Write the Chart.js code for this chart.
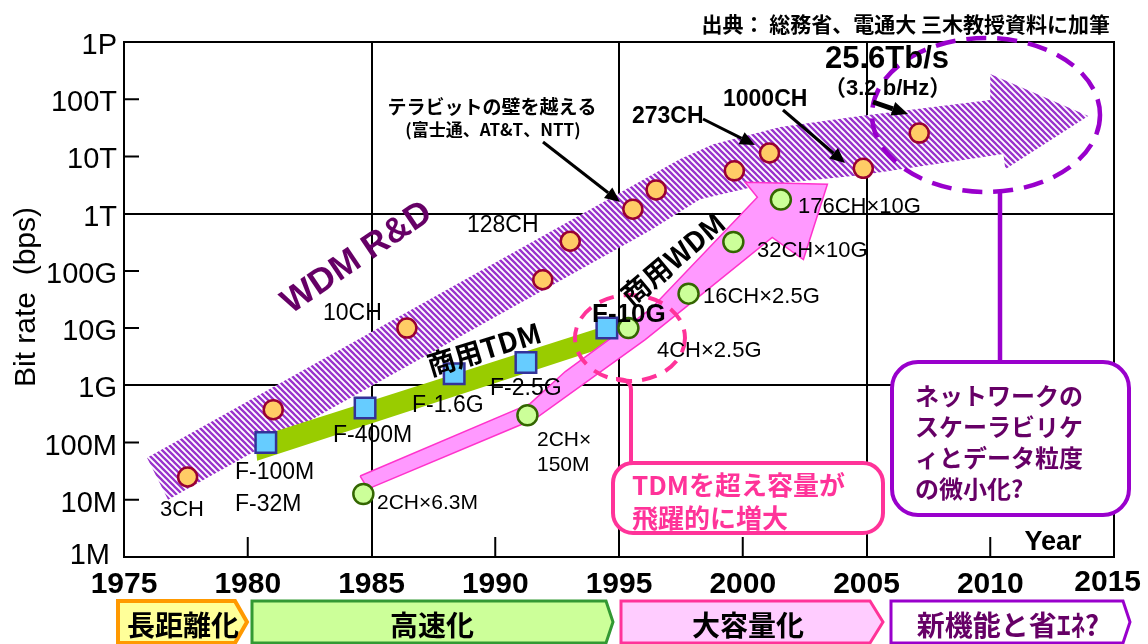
<!DOCTYPE html>
<html lang="ja">
<head>
<meta charset="UTF-8">
<title>光伝送容量の推移</title>
<script src="https://cdn.jsdelivr.net/npm/chart.js"></script>
<style>
  html, body { margin: 0; padding: 0; background: #fff; }
  canvas { display: block; }
</style>
</head>
<body>
<canvas id="myChart" width="1148" height="644"></canvas>
<script>
// 研究開発 (WDM R&D) の伝送容量
const rdYears = [1977.57, 1981.03, 1986.43, 1991.92, 1993.03, 1995.56, 1996.5, 1999.66, 2001.08, 2004.87, 2007.13];
const rdRates = [2.5e7, 3.75e8, 1.0e10, 7.0e10, 3.3e11, 1.2e12, 2.6e12, 5.6e12, 1.15e13, 6.2e12, 2.56e13];

// 商用TDM (F-100M, F-400M, F-1.6G, F-2.5G, F-10G)
const tdmYears = [1980.73, 1984.74, 1988.34, 1991.24, 1994.51];
const tdmRates = [1e8, 4e8, 1.6e9, 2.5e9, 1e10];

// 商用WDM (波長数 × チャネル速度)
const wdmYears = [1984.67, 1991.30, 1995.38, 1997.81, 1999.62, 2001.54];
const wdmRates = [2 * 6.3e6, 2 * 150e6, 4 * 2.5e9, 16 * 2.5e9, 32 * 10e9, 176 * 10e9];

// トレンドの帯 (輪郭)
const rdBandYears = [1975.93, 1997.47, 1998.81, 2001.52, 2004.75, 2010.0, 2010.0, 2013.96, 2010.61, 2010.53, 2004.75, 2000.71, 1998.28, 1996.26, 1976.78];
const rdBandRates = [5.4e7, 9.0e12, 1.64e13, 3.26e13, 5.08e13, 9.7e13, 2.76e14, 5.08e13, 6.0e12, 1.1e13, 4.7e12, 3.14e12, 1.79e12, 5.1e11, 1.0e7];

const tdmBandYears = [1980.30, 1994.64, 1994.81, 1980.38];
const tdmBandRates = [1.21e8, 1.16e10, 5.2e9, 4.8e7];

const wdmBandYears = [1984.54, 1991.41, 1992.83, 1996.26, 2000.59, 2000.10, 2003.42, 2002.45, 2001.19, 1998.28, 1996.06, 1995.05, 1991.61, 1984.86];
const wdmBandRates = [2.6e7, 4.8e8, 1.74e9, 2.12e10, 1.94e12, 3.55e12, 3.27e12, 1.58e11, 3.86e11, 3.7e10, 6.3e9, 3.06e9, 2.6e8, 1.55e7];

// 軸
const xTickValues = [1975, 1980, 1985, 1990, 1995, 2000, 2005, 2010, 2015];
const yTickValues = [1e6, 1e7, 1e8, 1e9, 1e10, 1e11, 1e12, 1e13, 1e14, 1e15];
const yTickLabels = ['1M', '10M', '100M', '1G', '10G', '100G', '1T', '10T', '100T', '1P'];

const JP = '"Noto Sans CJK JP", sans-serif';
const EN = '"Liberation Sans", Arial, sans-serif';
const ENJP = '"Liberation Sans", "Noto Sans CJK JP", sans-serif';

const toXY = (xs, ys) => xs.map((x, i) => ({ x: x, y: ys[i] }));
const closed = (xs, ys) => { const p = toXY(xs, ys); p.push(p[0]); return p; };

const canvas = document.getElementById('myChart');
const mainCtx = canvas.getContext('2d');

// 斜線ハッチ
const stripe = (() => {
  const c = document.createElement('canvas');
  c.width = c.height = 6;
  const g = c.getContext('2d');
  g.fillStyle = '#fff';
  g.fillRect(0, 0, 6, 6);
  g.strokeStyle = '#9933cc';
  g.lineWidth = 2.3;
  g.beginPath();
  for (let k = -1; k <= 1; k++) {
    g.moveTo(k * 6 - 1, -1);
    g.lineTo(k * 6 + 7, 7);
  }
  g.stroke();
  return mainCtx.createPattern(c, 'repeat');
})();

function text(ctx, str, x, y, font, color, align, angle) {
  ctx.save();
  ctx.translate(x, y);
  if (angle) ctx.rotate(angle * Math.PI / 180);
  ctx.font = font;
  ctx.fillStyle = color;
  ctx.textAlign = align || 'left';
  ctx.textBaseline = 'middle';
  ctx.fillText(str, 0, 0);
  ctx.restore();
}

function arrow(ctx, x1, y1, x2, y2, w, head) {
  const a = Math.atan2(y2 - y1, x2 - x1);
  const bx = x2 - head * Math.cos(a), by = y2 - head * Math.sin(a);
  ctx.save();
  ctx.strokeStyle = '#000';
  ctx.fillStyle = '#000';
  ctx.lineWidth = w;
  ctx.beginPath();
  ctx.moveTo(x1, y1);
  ctx.lineTo(bx, by);
  ctx.stroke();
  ctx.beginPath();
  ctx.moveTo(x2, y2);
  ctx.lineTo(bx + head * 0.45 * Math.sin(a), by - head * 0.45 * Math.cos(a));
  ctx.lineTo(bx - head * 0.45 * Math.sin(a), by + head * 0.45 * Math.cos(a));
  ctx.closePath();
  ctx.fill();
  ctx.restore();
}

function roundBox(ctx, x, y, w, h, r, stroke, lw) {
  ctx.save();
  ctx.beginPath();
  ctx.roundRect(x, y, w, h, r);
  ctx.fillStyle = '#fff';
  ctx.fill();
  ctx.strokeStyle = stroke;
  ctx.lineWidth = lw;
  ctx.stroke();
  ctx.restore();
}

function dashedEllipse(ctx, cx, cy, rx, ry, color, lw, dash) {
  ctx.save();
  ctx.beginPath();
  ctx.ellipse(cx, cy, rx, ry, 0, 0, Math.PI * 2);
  ctx.setLineDash(dash);
  ctx.strokeStyle = color;
  ctx.lineWidth = lw;
  ctx.stroke();
  ctx.restore();
}

function banner(ctx, x1, x2, tip, fill, stroke, lw, label, color, tx) {
  const top = 601, mid = 622, bottom = 643;
  ctx.save();
  ctx.beginPath();
  ctx.moveTo(x1, top);
  ctx.lineTo(x2, top);
  ctx.lineTo(tip, mid);
  ctx.lineTo(x2, bottom);
  ctx.lineTo(x1, bottom);
  ctx.closePath();
  ctx.fillStyle = fill;
  ctx.fill();
  ctx.strokeStyle = stroke;
  ctx.lineWidth = lw;
  ctx.lineJoin = 'miter';
  ctx.stroke();
  ctx.restore();
  text(ctx, label, tx, 625, 'bold 28px ' + JP, color, 'center');
}

const decor = {
  id: 'decor',
  beforeDatasetsDraw(chart) {
    const ctx = chart.ctx, a = chart.chartArea;
    const xs = chart.scales.x, ys = chart.scales.y;
    ctx.save();
    ctx.strokeStyle = '#000';
    ctx.lineWidth = 2;
    ctx.strokeRect(a.left, a.top, a.right - a.left, a.bottom - a.top);
    ctx.beginPath();
    [1980, 1990, 2000, 2010].forEach(v => {
      const px = xs.getPixelForValue(v);
      ctx.moveTo(px, a.bottom);
      ctx.lineTo(px, a.bottom - 20);
    });
    [1e7, 1e8, 1e10, 1e11, 1e13, 1e14].forEach(v => {
      const py = ys.getPixelForValue(v);
      ctx.moveTo(a.left, py);
      ctx.lineTo(a.left + 15, py);
    });
    ctx.stroke();
    ctx.restore();
  },
  afterDatasetsDraw(chart) {
    const ctx = chart.ctx;

    // 将来の方向 (点線の楕円と吹き出し)
    dashedEllipse(ctx, 986, 115, 114, 77, '#9900cc', 4.5, [20, 11]);
    ctx.save();
    ctx.strokeStyle = '#9900cc';
    ctx.lineWidth = 4.5;
    ctx.beginPath();
    ctx.moveTo(1000, 192);
    ctx.lineTo(1000, 362);
    ctx.stroke();
    ctx.restore();
    roundBox(ctx, 892, 362, 237, 153, 26, '#9900cc', 4);
    const note = ['ネットワークの', 'スケーラビリケ', 'ィとデータ粒度', 'の微小化?'];
    note.forEach((s, i) => text(ctx, s, 915, 396 + i * 31, 'bold 24px ' + JP, '#660066'));

    // F-10G 周辺
    dashedEllipse(ctx, 630, 338, 55, 43, '#ff3399', 4, [15, 10]);
    ctx.save();
    ctx.strokeStyle = '#ff3399';
    ctx.lineWidth = 4;
    ctx.beginPath();
    ctx.moveTo(616, 379);
    ctx.quadraticCurveTo(631, 379, 631, 390);
    ctx.lineTo(631, 463);
    ctx.stroke();
    ctx.restore();
    roundBox(ctx, 613, 463, 270, 70, 20, '#ff3399', 4);
    text(ctx, 'TDMを超え容量が', 632, 485, 'bold 26px ' + JP, '#ff3399');
    text(ctx, '飛躍的に増大', 632, 518, 'bold 26px ' + JP, '#ff3399');

    // 矢印
    arrow(ctx, 543, 142, 620, 202, 3, 15);
    arrow(ctx, 703, 119, 755, 145, 3, 15);
    arrow(ctx, 783, 110, 845, 163, 3, 15);
    arrow(ctx, 873, 102, 908, 114, 5, 16);

    // 帯の名前
    text(ctx, 'WDM R&D', 357, 258, 'bold 35px ' + EN, '#660066', 'center', -34);
    text(ctx, '商用TDM', 484, 349, 'bold 28px ' + JP, '#000', 'center', -17);
    text(ctx, '商用WDM', 673, 259, 'bold 28px ' + JP, '#000', 'center', -40);

    // 研究開発の点
    const reg = '23px ' + EN, bld = 'bold 23px ' + EN;
    text(ctx, '3CH', 160, 510, '22px ' + EN, '#000');
    text(ctx, '10CH', 323, 314, reg, '#000');
    text(ctx, '128CH', 467, 226, reg, '#000');
    text(ctx, '273CH', 632, 117, bld, '#000');
    text(ctx, '1000CH', 723, 100, bld, '#000');
    text(ctx, '25.6Tb/s', 825, 59, 'bold 31px ' + EN, '#000');
    text(ctx, '（3.2 b/Hz）', 824, 89, 'bold 22px ' + ENJP, '#000');
    text(ctx, 'テラビットの壁を越える', 492, 107, 'bold 19px ' + JP, '#000', 'center');
    text(ctx, '(富士通、AT&T、NTT)', 493, 130, 'bold 17px ' + JP, '#000', 'center');

    // TDM
    text(ctx, 'F-100M', 235, 473, reg, '#000');
    text(ctx, 'F-32M', 235, 505, reg, '#000');
    text(ctx, 'F-400M', 333, 436, reg, '#000');
    text(ctx, 'F-1.6G', 412, 406, reg, '#000');
    text(ctx, 'F-2.5G', 490, 389, reg, '#000');
    text(ctx, 'F-10G', 592, 315, 'bold 26px ' + EN, '#000');

    // WDM
    const sm = '21px ' + EN;
    text(ctx, '2CH×6.3M', 377, 503, sm, '#000');
    text(ctx, '2CH×', 537, 440, sm, '#000');
    text(ctx, '150M', 537, 465, sm, '#000');
    text(ctx, '4CH×2.5G', 657, 351, '22px ' + EN, '#000');
    text(ctx, '16CH×2.5G', 703, 297, '22px ' + EN, '#000');
    text(ctx, '32CH×10G', 757, 251, '22px ' + EN, '#000');
    text(ctx, '176CH×10G', 798, 207, '22px ' + EN, '#000');
  },
  afterDraw(chart) {
    const ctx = chart.ctx;
    const xs = chart.scales.x, ys = chart.scales.y;

    // 目盛ラベル
    yTickValues.forEach((v, i) => {
      const py = ys.getPixelForValue(v);
      const first = i === 0;
      text(ctx, yTickLabels[i], first ? 110 : 117, first ? py - 1 : py + 4, '29px ' + EN, '#000', 'right');
    });
    ctx.save();
    ctx.font = 'bold 30px ' + EN;
    xTickValues.forEach(v => {
      let px = xs.getPixelForValue(v);
      const half = ctx.measureText(String(v)).width / 2;
      const lastOne = px + half > chart.width - 4;
      if (lastOne) px = chart.width - half - 7;
      text(ctx, String(v), px, lastOne ? 583 : 585, 'bold 30px ' + EN, '#000', 'center');
    });
    ctx.restore();
    text(ctx, 'Year', 1053, 543, 'bold 27px ' + EN, '#000', 'center');
    text(ctx, 'Bit rate  (bps)', 27, 297, '30px ' + EN, '#000', 'center', -90);
    text(ctx, '出典： 総務省、電通大 三木教授資料に加筆', 1110, 24, 'bold 21px ' + JP, '#000', 'right');

    // 時代区分
    banner(ctx, 118, 235, 247, '#ffff99', '#ff9900', 4, '長距離化', '#000', 183);
    banner(ctx, 252, 606, 613, '#ccff99', '#339933', 3, '高速化', '#000', 432);
    banner(ctx, 621, 870, 883, '#ffccff', '#ff3399', 3, '大容量化', '#000', 748);
    banner(ctx, 891, 1123, 1130, '#ffffff', '#9900cc', 3, '新機能と省ｴﾈ?', '#660066', 1008);
  }
};

const config = {
  type: 'scatter',
  data: {
    datasets: [
      {
        label: 'WDM R&D',
        data: toXY(rdYears, rdRates),
        pointStyle: 'circle',
        pointRadius: 9.5,
        pointBackgroundColor: '#ffcc66',
        pointBorderColor: '#990033',
        pointBorderWidth: 2.5,
        order: 3
      },
      {
        label: '商用TDM',
        data: toXY(tdmYears, tdmRates),
        pointStyle: 'rect',
        pointRadius: 14.5,
        pointBackgroundColor: '#66ccff',
        pointBorderColor: '#333399',
        pointBorderWidth: 2.5,
        order: 2
      },
      {
        label: '商用WDM',
        data: toXY(wdmYears, wdmRates),
        pointStyle: 'circle',
        pointRadius: 10,
        pointBackgroundColor: '#ccff99',
        pointBorderColor: '#336600',
        pointBorderWidth: 2.5,
        order: 1
      },
      {
        type: 'line',
        label: 'rd-band',
        data: closed(rdBandYears, rdBandRates),
        fill: 'shape',
        backgroundColor: stripe,
        borderColor: 'rgba(0,0,0,0)',
        borderWidth: 0,
        pointRadius: 0,
        tension: 0,
        order: 30
      },
      {
        type: 'line',
        label: 'tdm-band',
        data: closed(tdmBandYears, tdmBandRates),
        fill: 'shape',
        backgroundColor: '#99cc00',
        borderColor: 'rgba(0,0,0,0)',
        borderWidth: 0,
        pointRadius: 0,
        tension: 0,
        order: 29
      },
      {
        type: 'line',
        label: 'wdm-band',
        data: closed(wdmBandYears, wdmBandRates),
        fill: 'shape',
        backgroundColor: '#ff99ff',
        borderColor: '#ff33cc',
        borderWidth: 1.5,
        pointRadius: 0,
        tension: 0,
        order: 28
      }
    ]
  },
  options: {
    responsive: false,
    animation: false,
    layout: { padding: { left: 124, right: 34, top: 42, bottom: 87 } },
    plugins: { legend: { display: false }, tooltip: { enabled: false } },
    scales: {
      x: {
        type: 'linear',
        min: 1975,
        max: 2015,
        afterBuildTicks: scale => { scale.ticks = xTickValues.map(v => ({ value: v })); },
        ticks: { display: false },
        grid: {
          drawTicks: false,
          lineWidth: 2,
          color: c => [1985, 1995, 2005].includes(c.tick && c.tick.value) ? '#000' : 'rgba(0,0,0,0)'
        },
        border: { display: false }
      },
      y: {
        type: 'logarithmic',
        min: 1e6,
        max: 1e15,
        afterBuildTicks: scale => { scale.ticks = yTickValues.map(v => ({ value: v })); },
        ticks: { display: false },
        grid: {
          drawTicks: false,
          lineWidth: 2,
          color: c => (c.tick && (c.tick.value === 1e9 || c.tick.value === 1e12)) ? '#000' : 'rgba(0,0,0,0)'
        },
        border: { display: false }
      }
    }
  },
  plugins: [decor]
};

const myChart = new Chart(canvas, config);
</script>
</body>
</html>
